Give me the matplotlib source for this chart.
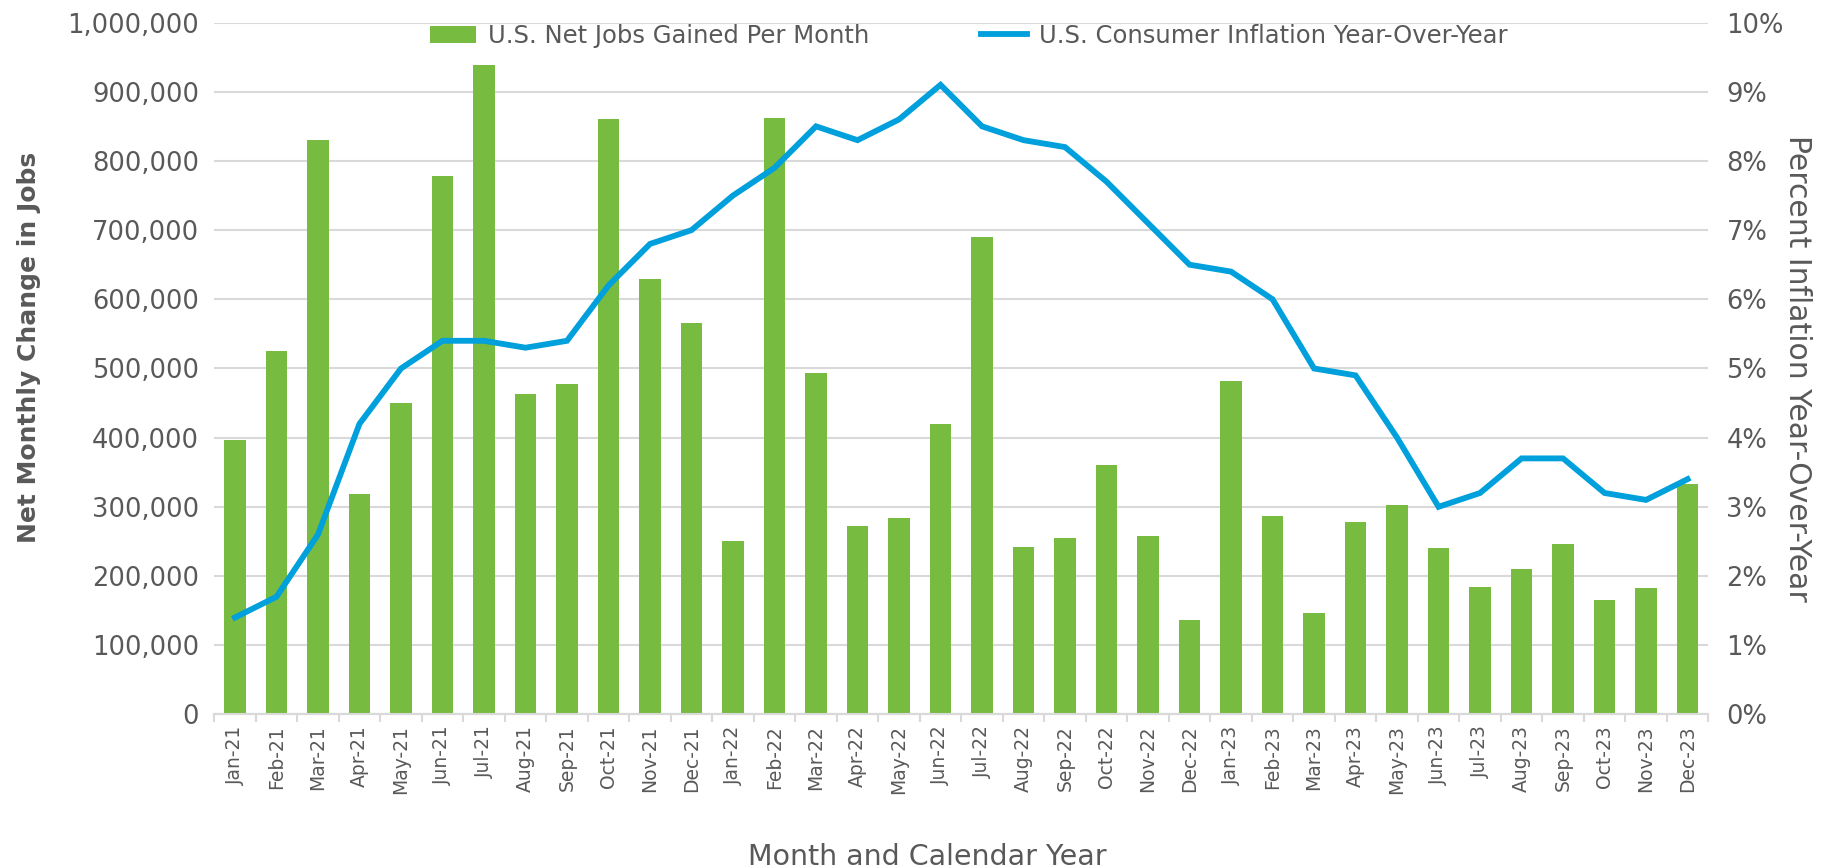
import matplotlib.pyplot as plt
from matplotlib.ticker import FuncFormatter, FixedLocator
import numpy as np

plt.rcParams['font.family'] = ['DejaVu Sans']

months = ["Jan-21", "Feb-21", "Mar-21", "Apr-21", "May-21", "Jun-21", "Jul-21", "Aug-21", "Sep-21",
          "Oct-21", "Nov-21", "Dec-21", "Jan-22", "Feb-22", "Mar-22", "Apr-22", "May-22", "Jun-22",
          "Jul-22", "Aug-22", "Sep-22", "Oct-22", "Nov-22", "Dec-22", "Jan-23", "Feb-23", "Mar-23",
          "Apr-23", "May-23", "Jun-23", "Jul-23", "Aug-23", "Sep-23", "Oct-23", "Nov-23", "Dec-23"]

jobs = [397000, 525000, 830000, 318000, 450000, 778000, 938000, 463000, 478000,
        860000, 630000, 565000, 251000, 862000, 493000, 272000, 284000, 420000,
        690000, 242000, 255000, 360000, 258000, 136000, 482000, 287000, 146000,
        278000, 303000, 240000, 184000, 210000, 246000, 165000, 182000, 333000]

inflation = [1.4, 1.7, 2.6, 4.2, 5.0, 5.4, 5.4, 5.3, 5.4,
             6.2, 6.8, 7.0, 7.5, 7.9, 8.5, 8.3, 8.6, 9.1,
             8.5, 8.3, 8.2, 7.7, 7.1, 6.5, 6.4, 6.0, 5.0,
             4.9, 4.0, 3.0, 3.2, 3.7, 3.7, 3.2, 3.1, 3.4]

green = "#77BB41"
blue = "#00A0DC"
txt = "#595959"
grid = "#D9D9D9"

fig, ax = plt.subplots(figsize=(18.31, 8.68), dpi=100)
fig.subplots_adjust(left=0.117, right=0.933, top=0.974, bottom=0.177)
ax2 = ax.twinx()

x = np.arange(len(months))
bars = ax.bar(x, jobs, width=0.52, color=green, zorder=3, label="U.S. Net Jobs Gained Per Month")
line, = ax2.plot(x, inflation, color=blue, lw=4.2, solid_joinstyle='miter',
                 label="U.S. Consumer Inflation Year-Over-Year", zorder=4)

ax.set_xlim(-0.5, len(months) - 0.5)
ax.set_ylim(0, 1000000)
ax2.set_ylim(0, 10)
ax.set_yticks(np.arange(0, 1000001, 100000))
ax2.set_yticks(np.arange(0, 11, 1))
ax.yaxis.set_major_formatter(FuncFormatter(lambda v, p: f"{int(v):,}"))
ax2.yaxis.set_major_formatter(FuncFormatter(lambda v, p: f"{int(v)}%"))

ax.set_xticks(x)
ax.set_xticklabels(months, rotation=90)
ax.xaxis.set_minor_locator(FixedLocator(np.arange(-0.5, len(months), 1)))
ax.tick_params(axis='x', which='major', length=0, pad=8, labelsize=13.5, labelcolor=txt)
ax.tick_params(axis='x', which='minor', length=6, color=grid, width=1.5)
ax.tick_params(axis='y', length=0, labelsize=18.5, labelcolor=txt, pad=11)
ax2.tick_params(axis='y', length=0, labelsize=18.5, labelcolor=txt, pad=13)

ax.grid(axis='y', color=grid, lw=1.5, zorder=0)
ax.set_axisbelow(True)
for a in (ax, ax2):
    for s in ("top", "left", "right"):
        a.spines[s].set_visible(False)
    a.spines["bottom"].set_color(grid)
    a.spines["bottom"].set_linewidth(1.5)

ax.set_ylabel("Net Monthly Change in Jobs", fontsize=18, color=txt, fontweight='bold',
              va='center')
ax.yaxis.set_label_coords(-0.124, 0.53)
ax2.set_ylabel("Percent Inflation Year-Over-Year", fontsize=21.5, color=txt, rotation=270,
               va='center')
ax2.yaxis.set_label_coords(1.060, 0.5)
ax.set_xlabel("Month and Calendar Year", fontsize=20.5, color=txt, va='center')
ax.xaxis.set_label_coords(0.477, -0.2055)

leg = ax.legend([bars, line], [bars.get_label(), line.get_label()], loc='upper center',
                bbox_to_anchor=(0.505, 1.03), ncol=2, frameon=False, fontsize=17.5,
                labelcolor=txt, columnspacing=4.6, handlelength=1.9, handletextpad=0.5)

plt.savefig("out.png", dpi=100)
